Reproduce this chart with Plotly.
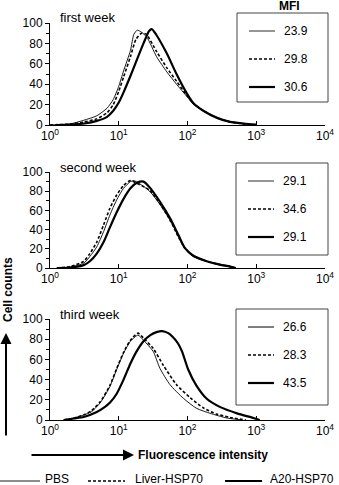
import numpy as np
import plotly.graph_objects as go

# ---------------- data (log10 of fluorescence intensity, cell counts) ----------------
panel_titles = ["first week", "second week", "third week"]
series_names = ["PBS", "Liver-HSP70", "A20-HSP70"]
tick_exponents = [0, 1, 2, 3, 4]

# first week
w1_pbs_logx = [0.0, 0.29, 0.49, 0.68, 0.83, 0.92, 1.0, 1.07, 1.17, 1.22, 1.27, 1.33, 1.41, 1.55, 1.70, 1.84, 1.99, 2.09, 2.23, 2.43, 2.62, 2.82, 3.0]
w1_pbs_y = [0, 1, 4.6, 9, 16.5, 25, 38, 53, 73, 89, 93, 91, 86, 67, 52, 40, 28, 20, 14, 7, 3, 1, 0]
w1_liver_logx = [0.0, 0.3, 0.5, 0.68, 0.83, 0.92, 1.0, 1.07, 1.17, 1.25, 1.33, 1.40, 1.55, 1.70, 1.84, 1.99, 2.09, 2.23, 2.43, 2.62, 2.82, 3.0]
w1_liver_y = [0, 1, 3, 6, 12, 20, 33, 47, 67, 84, 90, 89, 72, 56, 43, 29, 21, 14, 7, 3, 1, 0]
w1_a20_logx = [0.1, 0.3, 0.5, 0.68, 0.83, 0.92, 1.0, 1.07, 1.17, 1.27, 1.36, 1.44, 1.48, 1.55, 1.70, 1.84, 1.99, 2.09, 2.23, 2.43, 2.62, 2.82, 3.0]
w1_a20_y = [0, 0.5, 1.5, 4, 8, 14, 22, 32, 48, 65, 80, 92, 94, 88, 70, 50, 31, 21, 14, 7, 3, 1.5, 0.5]

# second week
w2_pbs_logx = [0.1, 0.3, 0.49, 0.58, 0.68, 0.78, 0.87, 0.97, 1.07, 1.17, 1.22, 1.30, 1.45, 1.60, 1.745, 1.87, 1.96, 2.08, 2.28, 2.47, 2.62, 2.7]
w2_pbs_y = [0, 1, 5, 12, 22, 38, 55, 71, 83, 90, 91, 88, 80, 66, 50, 33, 21, 12, 7, 3.5, 1.5, 0]
w2_liver_logx = [0.1, 0.3, 0.49, 0.58, 0.68, 0.78, 0.87, 0.97, 1.07, 1.17, 1.30, 1.45, 1.60, 1.745, 1.87, 1.96, 2.08, 2.28, 2.47, 2.62, 2.7]
w2_liver_y = [0, 1.5, 7, 15, 27, 45, 62, 76, 86, 91, 87, 81, 67, 50, 32, 21, 13, 7, 3.5, 1.5, 0]
w2_a20_logx = [0.1, 0.3, 0.49, 0.58, 0.68, 0.78, 0.87, 0.97, 1.07, 1.17, 1.27, 1.36, 1.45, 1.60, 1.745, 1.87, 1.96, 2.08, 2.28, 2.47, 2.62, 2.7]
w2_a20_y = [0, 0.5, 3, 7, 15, 27, 42, 58, 72, 83, 89, 90, 84, 69, 52, 34, 21, 13, 7, 3.5, 1.5, 0]

# third week
w3_pbs_logx = [0.2, 0.35, 0.49, 0.6, 0.73, 0.87, 0.97, 1.07, 1.17, 1.28, 1.36, 1.50, 1.60, 1.745, 1.94, 2.13, 2.33, 2.57, 2.8]
w3_pbs_y = [0, 2, 5, 8, 17, 33, 50, 66, 78, 84, 79, 68, 51, 35, 21.5, 11.6, 6.6, 2, 0]
w3_liver_logx = [0.2, 0.35, 0.49, 0.6, 0.73, 0.87, 0.97, 1.07, 1.17, 1.28, 1.36, 1.50, 1.65, 1.84, 2.04, 2.23, 2.42, 2.62, 2.85]
w3_liver_y = [0, 2, 5, 9, 18, 34, 51, 67, 79, 86, 81, 71, 54, 35, 22, 12, 6, 2.5, 0]
w3_a20_logx = [0.2, 0.35, 0.49, 0.68, 0.80, 0.87, 0.97, 1.07, 1.17, 1.26, 1.36, 1.46, 1.55, 1.63, 1.72, 1.79, 1.86, 1.92, 2.01, 2.13, 2.28, 2.47, 2.72, 2.96, 3.05]
w3_a20_y = [0, 1.5, 3, 8, 13, 17, 26, 40, 56, 68, 78, 84, 87, 88, 86, 82, 76, 68, 50, 34, 21, 13, 6.6, 2, 0]

# MFI values shown in the inset boxes
mfi_week1 = [23.9, 29.8, 30.6]
mfi_week2 = [29.1, 34.6, 29.1]
mfi_week3 = [26.6, 28.3, 43.5]

panels = [
    [(w1_pbs_logx, w1_pbs_y), (w1_liver_logx, w1_liver_y), (w1_a20_logx, w1_a20_y)],
    [(w2_pbs_logx, w2_pbs_y), (w2_liver_logx, w2_liver_y), (w2_a20_logx, w2_a20_y)],
    [(w3_pbs_logx, w3_pbs_y), (w3_liver_logx, w3_liver_y), (w3_a20_logx, w3_a20_y)],
]
mfis = [mfi_week1, mfi_week2, mfi_week3]

# ---------------- layout helpers (pixel -> paper) ----------------
W, H = 339, 485
def px(x):
    return x / W
def py(y):
    return 1 - y / H

FONT = "Liberation Sans, Arial, Helvetica, sans-serif"
line_styles = [
    dict(color="black", width=0.9, dash="solid"),
    dict(color="black", width=1.6, dash="3px,2px"),
    dict(color="black", width=2.2, dash="solid"),
]
# legend-sample styles per panel (PBS grey in first two boxes)
sample_styles = [
    [dict(color="#8a8a8a", width=1.8), dict(color="black", width=1.6, dash="3px,2px"), dict(color="black", width=2.2)],
    [dict(color="#8a8a8a", width=1.8), dict(color="black", width=1.6, dash="3px,2px"), dict(color="black", width=2.2)],
    [dict(color="black", width=1.0), dict(color="black", width=1.6, dash="3px,2px"), dict(color="black", width=2.2)],
]

x_left, x_right = 50, 325
panel_y = [(125, 23), (268, 172), (420, 319)]      # (y of 0, y of 100) in px
box_px = [(237, 13, 328, 102), (236, 163, 328, 255), (236, 309, 328, 405)]

fig = go.Figure()
layout = dict(
    width=W, height=H,
    margin=dict(l=0, r=0, t=0, b=0),
    paper_bgcolor="white", plot_bgcolor="white",
    showlegend=False,
    font=dict(family=FONT, size=12, color="black"),
)

shapes = []
annotations = []

for i, (series, mfi, title) in enumerate(zip(panels, mfis, panel_titles)):
    sfx = "" if i == 0 else str(i + 1)
    for j, (lx, yv) in enumerate(series):
        fig.add_trace(go.Scatter(
            x=10 ** np.array(lx, dtype=float), y=yv, mode="lines",
            name=series_names[j],
            line=dict(shape="spline", smoothing=0.6, **line_styles[j]),
            xaxis="x" + sfx, yaxis="y" + sfx, hoverinfo="skip",
        ))
    y0, y100 = panel_y[i]
    layout["xaxis" + sfx] = dict(
        type="log", range=[tick_exponents[0], tick_exponents[-1]],
        domain=[px(x_left), px(x_right)], anchor="y" + sfx,
        showline=True, linecolor="black", linewidth=1,
        ticks="inside", ticklen=4, tickcolor="black",
        tickvals=[10 ** e for e in tick_exponents],
        ticktext=["10<sup>%d</sup>" % e for e in tick_exponents],
        showgrid=False, zeroline=False, automargin=False,
        tickfont=dict(size=12),
    )
    layout["yaxis" + sfx] = dict(
        range=[0, 100], domain=[py(y0), py(y100)], anchor="x" + sfx,
        showline=True, linecolor="black", linewidth=1,
        ticks="outside", ticklen=4, tickcolor="black",
        tickvals=[0, 20, 40, 60, 80, 100],
        minor=dict(dtick=10, ticks="outside", ticklen=3, tickcolor="black"),
        showgrid=False, zeroline=False, automargin=False,
        tickfont=dict(size=12),
    )
    annotations.append(dict(
        x=px(58), y=py(y100 - 5), xref="paper", yref="paper",
        text=title, showarrow=False, xanchor="left", yanchor="middle",
        font=dict(size=13),
    ))
    bx0, by0, bx1, by1 = box_px[i]
    shapes.append(dict(type="rect", xref="paper", yref="paper",
                       x0=px(bx0), x1=px(bx1), y0=py(by0), y1=py(by1),
                       line=dict(color="#444", width=1)))
    for j, v in enumerate(mfi):
        ry = by0 + 18 + 28 * j
        shapes.append(dict(type="line", xref="paper", yref="paper",
                           x0=px(bx0 + 12), x1=px(bx0 + 38), y0=py(ry), y1=py(ry),
                           line=sample_styles[i][j]))
        annotations.append(dict(
            x=px(bx0 + 45), y=py(ry), xref="paper", yref="paper",
            text="%.1f" % v, showarrow=False, xanchor="left", yanchor="middle",
            font=dict(size=12),
        ))

# MFI header
annotations.append(dict(x=px(289), y=py(6), xref="paper", yref="paper", text="<b>MFI</b>",
                        showarrow=False, xanchor="center", yanchor="middle", font=dict(size=12)))

# Cell counts label with arrow
annotations.append(dict(x=px(8), y=py(290), xref="paper", yref="paper", text="<b>Cell counts</b>",
                        showarrow=False, textangle=-90, xanchor="center", yanchor="middle",
                        font=dict(size=12)))
annotations.append(dict(x=px(6), y=py(333), xref="paper", yref="paper", text="",
                        showarrow=True, ax=0, ay=104, arrowhead=2, arrowsize=1.1,
                        arrowwidth=2, arrowcolor="black"))

# Fluorescence intensity label with arrow
annotations.append(dict(x=px(134), y=py(455), xref="paper", yref="paper", text="",
                        showarrow=True, ax=-104, ay=0, arrowhead=2, arrowsize=1.1,
                        arrowwidth=2, arrowcolor="black"))
annotations.append(dict(x=px(136), y=py(455), xref="paper", yref="paper",
                        text="<b>Fluorescence intensity</b>", showarrow=False,
                        xanchor="left", yanchor="middle", font=dict(size=12)))

# bottom key
key_lines = [(0, 40, 43), (88, 125, 133), (225, 262, 268)]
for j, (l0, l1, tx) in enumerate(key_lines):
    shapes.append(dict(type="line", xref="paper", yref="paper",
                       x0=px(l0), x1=px(l1), y0=py(481), y1=py(481),
                       line=line_styles[j]))
    annotations.append(dict(x=px(tx), y=py(479), xref="paper", yref="paper",
                            text=series_names[j], showarrow=False,
                            xanchor="left", yanchor="middle", font=dict(size=12)))

layout["shapes"] = shapes
layout["annotations"] = annotations
fig.update_layout(**layout)
fig.write_html("out.html", config={"displayModeBar": False},
               post_script="document.body.style.margin='0';document.body.style.overflow='hidden';")
